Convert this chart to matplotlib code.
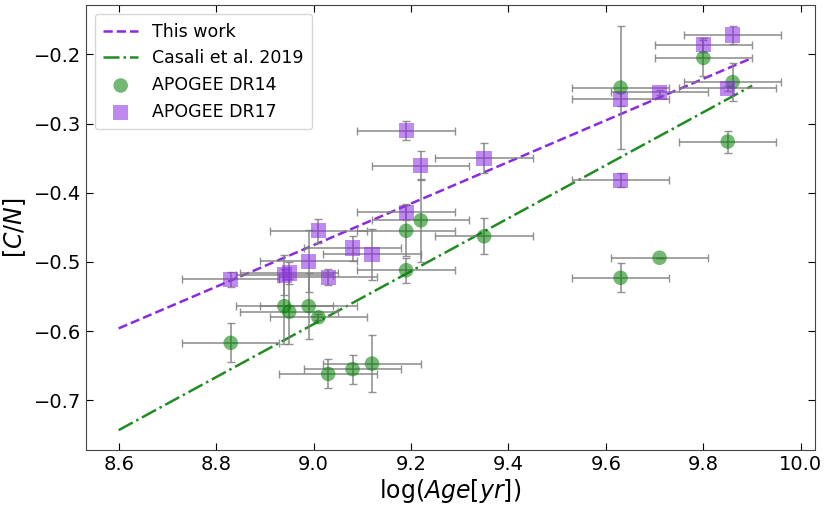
import matplotlib
matplotlib.use("Agg")
import matplotlib.pyplot as plt
import numpy as np

# APOGEE DR14
dr14_age = [9.63, 9.80, 9.86, 9.85, 9.71, 9.63, 9.22, 9.19, 9.35, 9.19,
            8.83, 8.94, 8.95, 8.99, 9.01, 9.03, 9.08, 9.12]
dr14_cn = [-0.248, -0.205, -0.240, -0.326, -0.494, -0.523, -0.440, -0.455, -0.463, -0.512,
           -0.617, -0.564, -0.572, -0.564, -0.580, -0.662, -0.655, -0.647]
dr14_cn_err = [0.089, 0.026, 0.028, 0.016, 0.0, 0.021, 0.060, 0.037, 0.026, 0.018,
               0.028, 0.054, 0.047, 0.048, 0.004, 0.021, 0.021, 0.041]
dr14_age_err = [0.1] * len(dr14_age)

# APOGEE DR17
dr17_age = [9.86, 9.80, 9.63, 9.71, 9.85, 9.63, 9.19, 9.22, 9.35, 9.19,
            9.01, 9.08, 9.12, 8.99, 9.03, 8.83, 8.94, 8.95]
dr17_cn = [-0.172, -0.186, -0.265, -0.255, -0.249, -0.382, -0.310, -0.361, -0.350, -0.428,
           -0.455, -0.480, -0.489, -0.499, -0.522, -0.525, -0.519, -0.516]
dr17_cn_err = [0.013, 0.010, 0.010, 0.004, 0.004, 0.010, 0.014, 0.021, 0.022, 0.012,
               0.017, 0.018, 0.037, 0.045, 0.012, 0.011, 0.029, 0.016]
dr17_age_err = [0.1] * len(dr17_age)

# Relations
fit_range = [8.6, 9.9]
this_slope, this_intercept = 0.3008, -3.183
casali_slope, casali_intercept = 1 / 2.61, -10.54 / 2.61

fig = plt.figure(figsize=(8.3, 5.07), dpi=100)
ax = fig.add_axes([0.1036, 0.1124, 0.8783, 0.8771])

xl = np.array(fit_range)
ax.plot(xl, this_slope * xl + this_intercept, color='#8a2be2', ls='--', lw=1.8, label='This work')
ax.plot(xl, casali_slope * xl + casali_intercept, color='#228b22', ls='-.', lw=1.8,
        label='Casali et al. 2019')

ax.errorbar(dr14_age, dr14_cn, xerr=dr14_age_err, yerr=dr14_cn_err, fmt='none',
            ecolor='gray', elinewidth=1.2, capsize=3, alpha=0.85, zorder=2)
ax.errorbar(dr17_age, dr17_cn, xerr=dr17_age_err, yerr=dr17_cn_err, fmt='none',
            ecolor='gray', elinewidth=1.2, capsize=3, alpha=0.85, zorder=2)

ax.scatter(dr14_age, dr14_cn, s=110, marker='o', color='green', alpha=0.55,
           edgecolors='none', label='APOGEE DR14', zorder=3)
ax.scatter(dr17_age, dr17_cn, s=120, marker='s', color='#8a2be2', alpha=0.55,
           edgecolors='none', label='APOGEE DR17', zorder=3)

ax.set_xlim(8.533, 10.029)
ax.set_ylim(-0.772, -0.129)
ax.set_xticks([8.6, 8.8, 9.0, 9.2, 9.4, 9.6, 9.8, 10.0])
ax.set_yticks([-0.7, -0.6, -0.5, -0.4, -0.3, -0.2])
ax.tick_params(direction='in', top=True, right=True, labelsize=14, length=5)
ax.set_xlabel(r'log($Age[yr]$)', fontsize=17, labelpad=2)
ax.set_ylabel(r'[$C/N$]', fontsize=17)
for s in ax.spines.values():
    s.set_color('#444444')

ax.legend(loc='upper left', fontsize=12.5, frameon=True, borderpad=0.5, handlelength=2.0)

fig.savefig('out.png', dpi=100)
